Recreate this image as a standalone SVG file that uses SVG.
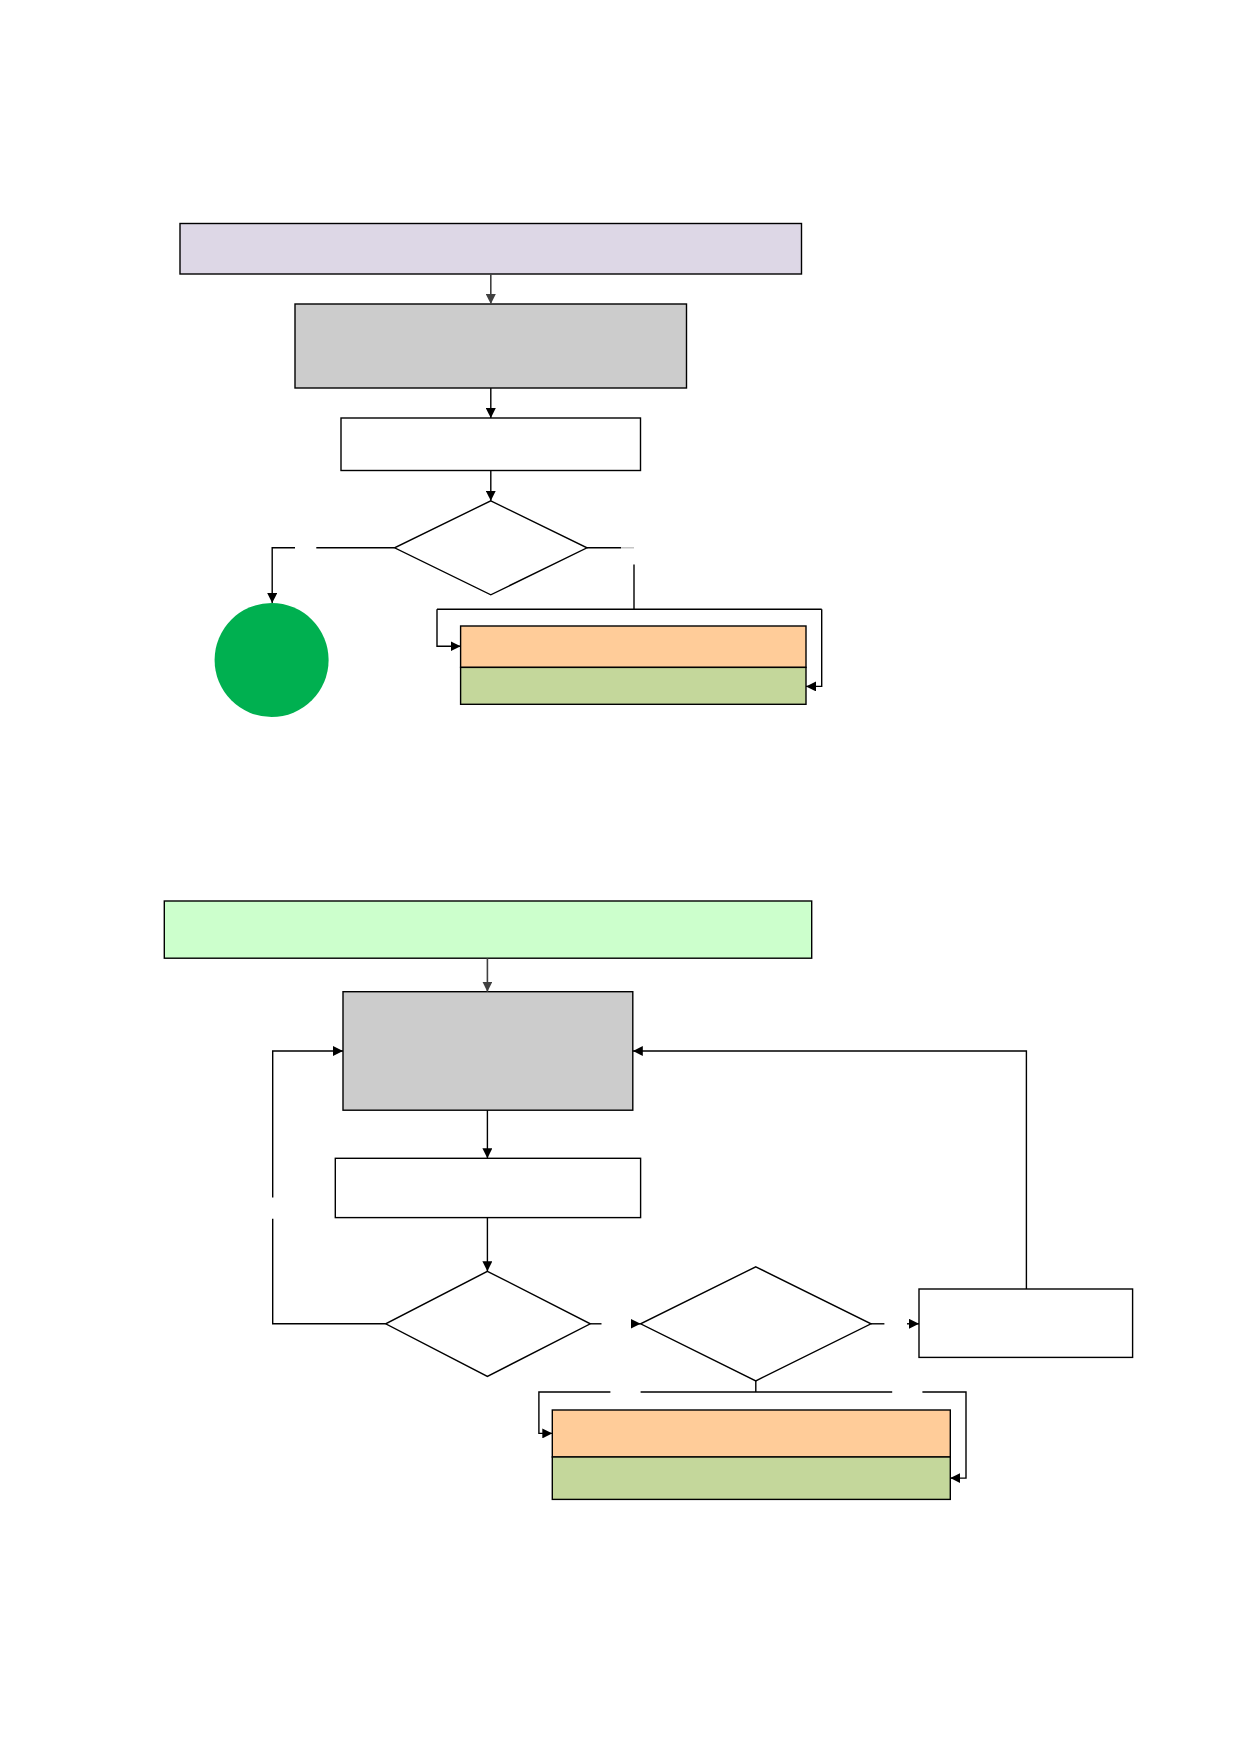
<svg xmlns="http://www.w3.org/2000/svg" width="1239" height="1754" viewBox="0 0 1239 1754">
<style>
.box{stroke:#000;stroke-width:1.4}
.ln{fill:none;stroke:#000;stroke-width:1.4}
.lng{fill:none;stroke:#404040;stroke-width:1.6}
</style>
<defs>
<marker id="a" viewBox="0 0 10 10" refX="10" refY="5" markerWidth="10" markerHeight="10" markerUnits="userSpaceOnUse" orient="auto"><path d="M0,0 L10,5 L0,10 z" fill="#000"/></marker>
<marker id="ag" viewBox="0 0 10 10" refX="10" refY="5" markerWidth="10" markerHeight="10" markerUnits="userSpaceOnUse" orient="auto"><path d="M0,0 L10,5 L0,10 z" fill="#404040"/></marker>
</defs>
<rect width="1239" height="1754" fill="#fff"/>
<g transform="translate(1,1)">
<g id="top-header"><rect class="box" x="179" y="222.5" width="621.5" height="50.5" fill="#DDD7E6"/></g>
<g id="top-process"><rect class="box" x="294" y="303" width="391.5" height="84" fill="#CCCCCC"/></g>
<g id="top-step"><rect class="box" x="340" y="417" width="299.5" height="52.5" fill="#fff"/></g>
<g id="top-decision"><polygon class="box" points="489.8,499.8 586,546.8 489.8,593.8 393.6,546.8" fill="#fff"/></g>
<g id="top-end"><ellipse cx="270.6" cy="659" rx="57" ry="57" fill="#00B050"/></g>
<g id="top-result-a"><rect class="box" x="459.6" y="625" width="345.4" height="41.4" fill="#FFCC99"/></g>
<g id="top-result-b"><rect class="box" x="459.6" y="666.4" width="345.4" height="36.9" fill="#C4D79B"/></g>

<g id="bottom-header"><rect class="box" x="163.3" y="900" width="647.4" height="57.2" fill="#CCFFCC"/></g>
<g id="bottom-process"><rect class="box" x="342" y="990.7" width="289.8" height="118.5" fill="#CCCCCC"/></g>
<g id="bottom-step"><rect class="box" x="334.3" y="1157.3" width="305.3" height="59.3" fill="#fff"/></g>
<g id="bottom-decision-1"><polygon class="box" points="486.4,1270.3 589.3,1322.8 486.4,1375.4 384.7,1322.8" fill="#fff"/></g>
<g id="bottom-decision-2"><polygon class="box" points="754.8,1265.8 870,1322.8 754.8,1379.9 639.6,1322.8" fill="#fff"/></g>
<g id="bottom-side"><rect class="box" x="918" y="1288" width="213.6" height="68.4" fill="#fff"/></g>
<g id="bottom-result-a"><rect class="box" x="551.3" y="1409" width="398" height="47" fill="#FFCC99"/></g>
<g id="bottom-result-b"><rect class="box" x="551.3" y="1456" width="398" height="42.4" fill="#C4D79B"/></g>

<g id="connectors">
<path class="lng" d="M489.8,273 V303" marker-end="url(#ag)"/>
<path class="ln" d="M489.8,387 V417" marker-end="url(#a)"/>
<path class="ln" d="M489.8,469.5 V499.8" marker-end="url(#a)"/>
<path class="ln" d="M393.6,546.8 H315.3"/>
<path class="ln" d="M294,546.8 H271.2 V602" marker-end="url(#a)"/>
<path class="ln" d="M586,546.8 H620"/>
<path fill="none" stroke="#bbb" stroke-width="1.3" d="M620,546.8 H633"/>
<path class="ln" d="M633,563.6 V608.3"/>
<path class="ln" d="M436,608.3 H820.7"/>
<path class="ln" d="M436,608.3 V645.2 H459.6" marker-end="url(#a)"/>
<path class="ln" d="M820.7,608.3 V685.4 H805" marker-end="url(#a)"/>

<path class="lng" d="M486.4,957.2 V990.7" marker-end="url(#ag)"/>
<path class="ln" d="M486.4,1109.2 V1157.3" marker-end="url(#a)"/>
<path class="ln" d="M486.4,1216.6 V1270.3" marker-end="url(#a)"/>
<path class="ln" d="M384.7,1322.8 H271.7 V1217.7"/>
<path class="ln" d="M271.7,1196.4 V1050 H342" marker-end="url(#a)"/>
<path class="ln" d="M1025.4,1288 V1050 H631.8" marker-end="url(#a)"/>
<path class="ln" d="M589.3,1322.8 H600.5"/>
<path class="ln" d="M630,1322.8 H639.6" marker-end="url(#a)"/>
<path class="ln" d="M870,1322.8 H883.4"/>
<path class="ln" d="M906,1322.8 H918" marker-end="url(#a)"/>
<path class="ln" d="M754.8,1379.9 V1391"/>
<path class="ln" d="M609.4,1391 H537.9 V1432.4 H551.3" marker-end="url(#a)"/>
<path class="ln" d="M639.6,1391 H891.2"/>
<path class="ln" d="M921.4,1391 H965 V1477.1 H949.3" marker-end="url(#a)"/>
</g>
</g>
</svg>
